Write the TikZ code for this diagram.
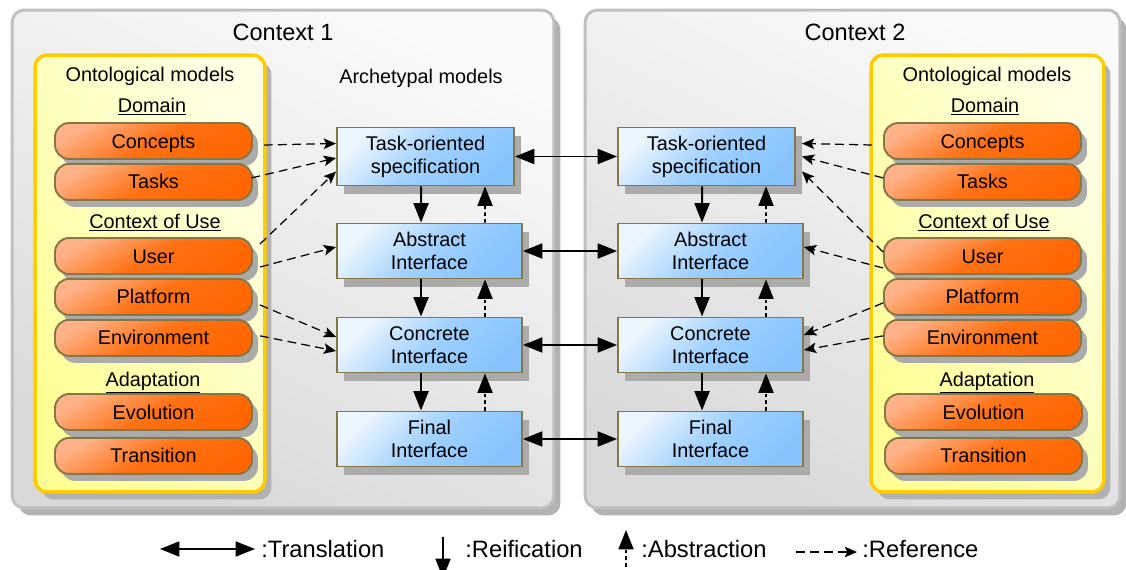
\documentclass[tikz,border=0pt]{standalone}
\usepackage{fontspec}
\setmainfont{Liberation Sans}
\usepackage{xcolor}
\definecolor{orangeDark}{RGB}{255,102,0}
\definecolor{orangeLight}{RGB}{255,178,135}
\definecolor{blueLight}{RGB}{236,246,255}
\definecolor{blueDark}{RGB}{135,196,255}
\definecolor{yellowFill}{RGB}{255,255,150}
\definecolor{yellowLight}{RGB}{255,255,228}
\definecolor{goldBorder}{RGB}{255,204,0}
\definecolor{oliveBorder}{RGB}{135,118,72}
\definecolor{ctxBorder}{RGB}{192,192,192}
\usepackage{tikz}
\usetikzlibrary{arrows.meta, positioning, shadows}

\begin{document}
\begin{tikzpicture}[
  x=0.02cm, y=-0.02cm,
  font=\fontsize{11.3}{13}\selectfont,
  ctx/.style={rectangle, rounded corners=7pt, draw=ctxBorder, line width=1.7pt,
              top color=black!2, bottom color=black!15, shading angle=-25,
              minimum height=9.96cm,
              drop shadow={shadow xshift=0.13cm, shadow yshift=-0.15cm, fill=black!30, opacity=1}},
  onto/.style={rectangle, rounded corners=7pt, draw=goldBorder, line width=2pt,
               top color=yellowLight, bottom color=yellowFill, shading angle=-60,
               minimum height=8.74cm,
               drop shadow={shadow xshift=0.13cm, shadow yshift=-0.15cm, fill=black!30, opacity=1}},
  pill/.style={rectangle, rounded corners=8pt, draw=oliveBorder, line width=1.1pt,
               top color=orangeLight, bottom color=orangeDark, middle color=orangeDark!85!orangeLight,
               shading angle=30,
               minimum width=3.94cm, minimum height=0.72cm, inner sep=0pt,
               text height=8pt, text depth=0pt,
               drop shadow={shadow xshift=0.12cm, shadow yshift=-0.14cm, fill=black!33, opacity=1}},
  box/.style={rectangle, draw=oliveBorder, line width=1.1pt,
              top color=blueLight, bottom color=blueDark, middle color=blueDark!75!blueLight,
              shading angle=45,
              minimum width=3.7cm, minimum height=1.1cm, align=center, inner sep=0pt,
              drop shadow={shadow xshift=0.14cm, shadow yshift=-0.16cm, fill=black!33, opacity=1}},
  hdr/.style={anchor=base, inner sep=0pt},
  lgd/.style={anchor=base west, inner sep=0pt, font=\fontsize{13.5}{16}\selectfont},
  trans/.style={{Triangle[length=11pt, width=8.5pt]}-{Triangle[length=11pt, width=8.5pt]}, line width=1.1pt},
  reif/.style={-{Triangle[length=11pt, width=8.5pt]}, line width=1.1pt},
  abst/.style={-{Triangle[length=11pt, width=8.5pt]}, line width=1.1pt, dash pattern=on 2pt off 1.8pt},
  ref/.style={-{Stealth[length=7pt, width=6pt, inset=1.5pt]}, line width=0.7pt, dash pattern=on 5pt off 3pt}
]
\useasboundingbox (0,0) rectangle (1126,569);

% Context 1
\node[ctx, minimum width=10.84cm] (ctx1) at (283,259) {};
\node[hdr, font=\fontsize{13.4}{16}\selectfont] (tit1) at (283,40) {Context 1};
\node[onto, minimum width=4.6cm] (ont1) at (150,273.5) {};
\node[hdr] (hOnt1) at (150,81) {Ontological models};
\node[hdr] (hDom1) at (152,112) {\underline{Domain}};
\node[pill] (cL1) at (153.5,141) {Concepts};
\node[pill, below=0.06cm of cL1] (cL2) {Tasks};
\node[hdr] (hUse1) at (155,228) {\underline{Context of Use}};
\node[pill] (cL3) at (153.5,256) {User};
\node[pill, below=0.06cm of cL3] (cL4) {Platform};
\node[pill, below=0.06cm of cL4] (cL5) {Environment};
\node[hdr] (hAda1) at (153,386) {\underline{Adaptation}};
\node[pill] (cL6) at (153.5,412) {Evolution};
\node[pill, below=0.12cm of cL6] (cL7) {Transition};

\node[hdr] (hArq) at (421,83) {Archetypal models};
\node[box, minimum width=3.54cm, minimum height=1.16cm] (T1) at (425.5,156.5) {Task-oriented\\specification};
\node[box] (A1) at (429.5,251) {Abstract\\Interface};
\node[box] (C1) at (429.5,345) {Concrete\\Interface};
\node[box] (F1) at (429.5,439) {Final\\Interface};

% Context 2
\node[ctx, minimum width=10.7cm] (ctx2) at (852.5,259) {};
\node[hdr, font=\fontsize{13.4}{16}\selectfont] (tit2) at (855,40) {Context 2};
\node[onto, minimum width=4.66cm] (ont2) at (987.5,273.5) {};
\node[hdr] (hOnt2) at (987,81) {Ontological models};
\node[hdr] (hDom2) at (985,112) {\underline{Domain}};
\node[pill] (cR1) at (982.5,141) {Concepts};
\node[pill, below=0.06cm of cR1] (cR2) {Tasks};
\node[hdr] (hUse2) at (984,228) {\underline{Context of Use}};
\node[pill] (cR3) at (982.5,256) {User};
\node[pill, below=0.06cm of cR3] (cR4) {Platform};
\node[pill, below=0.06cm of cR4] (cR5) {Environment};
\node[hdr] (hAda2) at (987,386) {\underline{Adaptation}};
\node[pill] (cR6) at (983.5,412) {Evolution};
\node[pill, below=0.12cm of cR6] (cR7) {Transition};

\node[box, minimum width=3.54cm, minimum height=1.16cm] (T2) at (706.5,156.5) {Task-oriented\\specification};
\node[box] (A2) at (710.5,251) {Abstract\\Interface};
\node[box] (C2) at (710.5,345) {Concrete\\Interface};
\node[box] (F2) at (710.5,439) {Final\\Interface};

% Translation
\draw[trans] (T1.east) -- (T2.west);
\draw[trans] (A1.east) -- (A2.west);
\draw[trans] (C1.east) -- (C2.west);
\draw[trans] (F1.east) -- (F2.west);

% Reification / abstraction
\draw[reif] ([xshift=1.7cm]T1.south west) -- ([xshift=1.7cm]A1.north west);
\draw[reif] ([xshift=1.7cm]A1.south west) -- ([xshift=1.7cm]C1.north west);
\draw[reif] ([xshift=1.7cm]C1.south west) -- ([xshift=1.7cm]F1.north west);
\draw[abst] ([xshift=2.98cm]A1.north west) -- ([xshift=2.98cm]T1.south west);
\draw[abst] ([xshift=2.98cm]C1.north west) -- ([xshift=2.98cm]A1.south west);
\draw[abst] ([xshift=2.98cm]F1.north west) -- ([xshift=2.98cm]C1.south west);

\draw[reif] ([xshift=1.7cm]T2.south west) -- ([xshift=1.7cm]A2.north west);
\draw[reif] ([xshift=1.7cm]A2.south west) -- ([xshift=1.7cm]C2.north west);
\draw[reif] ([xshift=1.7cm]C2.south west) -- ([xshift=1.7cm]F2.north west);
\draw[abst] ([xshift=2.98cm]A2.north west) -- ([xshift=2.98cm]T2.south west);
\draw[abst] ([xshift=2.98cm]C2.north west) -- ([xshift=2.98cm]A2.south west);
\draw[abst] ([xshift=2.98cm]F2.north west) -- ([xshift=2.98cm]C2.south west);

% References
\draw[ref] ([shift={(11,4)}]cL1.east) -- ([shift={(0,-13)}]T1.west);
\draw[ref] ([shift={(-1.5,-4)}]cL2.east) -- ([shift={(0,1.5)}]T1.west);
\draw[ref] ([shift={(7,-12)}]cL3.east) -- ([shift={(0,15)}]T1.west);
\draw[ref] ([shift={(7,11)}]cL3.east) -- ([shift={(0,-4)}]A1.west);
\draw[ref] ([shift={(7,8)}]cL4.east) -- ([shift={(0,-8)}]C1.west);
\draw[ref] ([shift={(7,-2)}]cL5.east) -- ([shift={(0,6)}]C1.west);

\draw[ref] ([shift={(-11,4)}]cR1.west) -- ([shift={(6,-13)}]T2.east);
\draw[ref] ([shift={(0,-4)}]cR2.west) -- ([shift={(6,0)}]T2.east);
\draw[ref] ([shift={(0,-4)}]cR3.west) -- ([shift={(6,15)}]T2.east);
\draw[ref] ([shift={(0,12)}]cR3.west) -- ([shift={(0,-4)}]A2.east);
\draw[ref] ([shift={(0,6)}]cR4.west) -- ([shift={(0,-10)}]C2.east);
\draw[ref] ([shift={(0,-2)}]cR5.west) -- ([shift={(0,5)}]C2.east);

% Legend
\coordinate (lgT1) at (160,549);
\coordinate (lgT2) at (255,549);
\draw[trans] (lgT1) -- (lgT2);
\node[lgd] (lgTrans) at (261,557) {:Translation};
\coordinate (lgR1) at (443,537);
\coordinate (lgR2) at (443,578);
\draw[reif] (lgR1) -- (lgR2);
\node[lgd] (lgReif) at (465,557) {:Reification};
\coordinate (lgA1) at (626,580);
\coordinate (lgA2) at (626,530);
\draw[abst] (lgA1) -- (lgA2);
\node[lgd] (lgAbst) at (641,557) {:Abstraction};
\coordinate (lgF1) at (796,552);
\coordinate (lgF2) at (857,552);
\draw[ref] (lgF1) -- (lgF2);
\node[lgd] (lgRef) at (862,557) {:Reference};

\end{tikzpicture}
\end{document}
